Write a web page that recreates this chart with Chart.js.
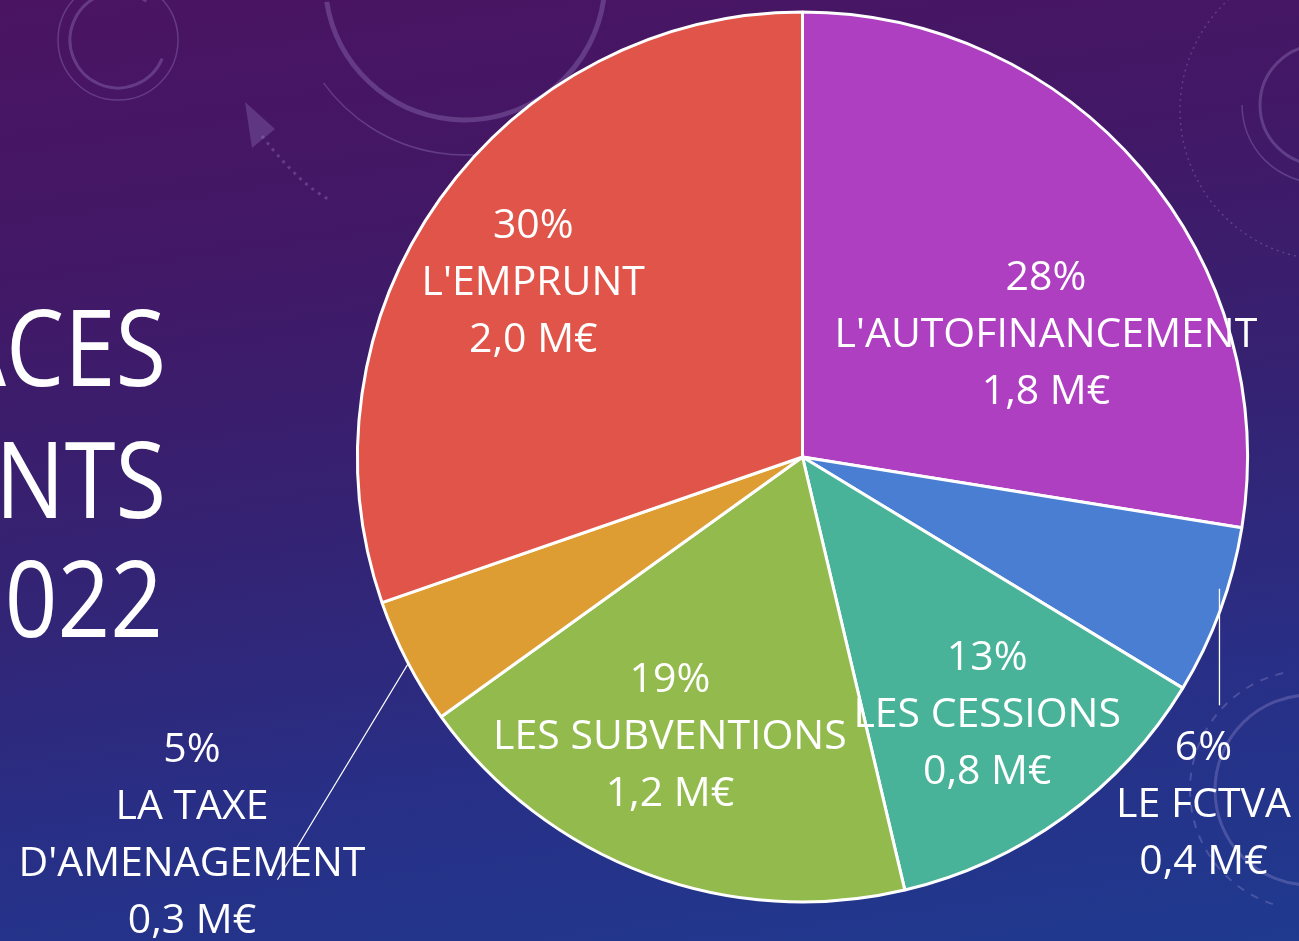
<!DOCTYPE html>
<html lang="fr">
<head>
<meta charset="utf-8">
<title>Ressources d'investissements 2022</title>
<script src="https://cdn.jsdelivr.net/npm/chart.js@4.4.1/dist/chart.umd.min.js"></script>
<style>
    html, body { margin: 0; padding: 0; width: 1299px; height: 941px; overflow: hidden; }
    body { background: linear-gradient(172deg, #4a1462 0%, #421866 25%, #352272 50%, #282f86 75%, #1f3a8f 100%); }
    #wrap { position: absolute; left: 0; top: 0; width: 1299px; height: 941px; }
</style>
</head>
<body>
<div id="wrap"><canvas id="pieChart"></canvas></div>
<script>
// Data (slices clockwise from 12 o'clock)
const categories = ["L'AUTOFINANCEMENT", 'LE FCTVA', 'LES CESSIONS', 'LES SUBVENTIONS', ['LA TAXE', "D'AMENAGEMENT"], "L'EMPRUNT"];
const amounts = [1.79, 0.40, 0.82, 1.22, 0.30, 1.97]; // M€
const percentLabels = ['28%', '6%', '13%', '19%', '5%', '30%'];
const amountLabels = ['1,8 M€', '0,4 M€', '0,8 M€', '1,2 M€', '0,3 M€', '2,0 M€'];
const titleLines = ['ACES', 'NTS', '022'];

const sliceColors = ['#ad3fc0', '#4a7ed3', '#48b399', '#93ba4d', '#de9d32', '#e15449'];

// label anchors in units of the pie radius, relative to the centre
const labelPos = [[0.547, -0.273], [0.901, 0.783], [0.415, 0.581], [-0.298, 0.63], [-1.372, 0.852], [-0.605, -0.39]];
// leader lines for the outside labels: [from, to]
const leaders = {1: [[0.937, 0.296], [0.937, 0.558]], 4: [[-0.886, 0.464], [-1.18, 0.95]]};

const FONT = '"Open Sans", "Noto Sans", sans-serif';

const decoPlugin = {
    id: 'deco',
    beforeDraw(chart) {
        const ctx = chart.ctx;
        ctx.save();
        ctx.strokeStyle = 'rgba(190,170,230,0.25)';
        ctx.lineWidth = 1.5;
        // top left rings
        ctx.beginPath(); ctx.arc(118, 40, 60, 0, Math.PI * 2); ctx.stroke();
        ctx.lineWidth = 3;
        ctx.beginPath(); ctx.arc(118, 40, 48, 0.4, Math.PI * 1.7); ctx.stroke();
        // big ring top middle
        ctx.lineWidth = 5;
        ctx.beginPath(); ctx.arc(465, -20, 140, 0.1, Math.PI * 0.95); ctx.stroke();
        ctx.lineWidth = 1.5;
        ctx.beginPath(); ctx.arc(465, -20, 175, Math.PI * 0.3, Math.PI * 0.8); ctx.stroke();
        // arrow + dotted trail
        ctx.fillStyle = 'rgba(190,170,230,0.22)';
        ctx.beginPath(); ctx.moveTo(245, 102); ctx.lineTo(275, 129); ctx.lineTo(252, 148); ctx.closePath(); ctx.fill();
        ctx.setLineDash([3, 5]);
        ctx.lineWidth = 3;
        ctx.beginPath(); ctx.moveTo(262, 136); ctx.quadraticCurveTo(300, 185, 330, 200); ctx.stroke();
        // right side rings
        ctx.lineWidth = 1.5;
        ctx.setLineDash([2, 4]);
        ctx.beginPath(); ctx.arc(1330, 110, 150, 0, Math.PI * 2); ctx.stroke();
        ctx.setLineDash([]);
        ctx.lineWidth = 3;
        ctx.beginPath(); ctx.arc(1320, 105, 60, 0, Math.PI * 2); ctx.stroke();
        ctx.lineWidth = 1.5;
        ctx.beginPath(); ctx.arc(1320, 105, 78, Math.PI * 0.5, Math.PI * 1.0); ctx.stroke();
        // bottom right rings
        ctx.lineWidth = 3;
        ctx.beginPath(); ctx.arc(1310, 790, 95, 0, Math.PI * 2); ctx.stroke();
        ctx.lineWidth = 2;
        ctx.setLineDash([8, 8]);
        ctx.beginPath(); ctx.arc(1310, 790, 120, Math.PI * 0.6, Math.PI * 1.45); ctx.stroke();
        ctx.setLineDash([]);

        // cropped slide title (narrowed to mimic the original face)
        const sx = 0.87;
        ctx.fillStyle = '#ffffff';
        ctx.font = '106px ' + FONT;
        ctx.textAlign = 'right';
        ctx.textBaseline = 'alphabetic';
        ctx.scale(sx, 1);
        ctx.fillText(titleLines[0], 166 / sx, 386);
        ctx.fillText(titleLines[1], 166 / sx, 518);
        ctx.fillText(titleLines[2], 163 / sx, 637);
        ctx.restore();
    }
};

const labelPlugin = {
    id: 'sliceLabels',
    afterDatasetsDraw(chart) {
        const ctx = chart.ctx;
        const arc0 = chart.getDatasetMeta(0).data[0];
        const cx = arc0.x, cy = arc0.y, R = arc0.outerRadius;
        const lineH = 57;
        ctx.save();
        // leader lines
        ctx.strokeStyle = '#ffffff';
        ctx.lineWidth = 1.3;
        Object.keys(leaders).forEach(k => {
            const [a, b] = leaders[k];
            ctx.beginPath();
            ctx.moveTo(cx + a[0] * R, cy + a[1] * R);
            ctx.lineTo(cx + b[0] * R, cy + b[1] * R);
            ctx.stroke();
        });
        ctx.fillStyle = '#ffffff';
        ctx.font = '41px ' + FONT;
        ctx.textAlign = 'center';
        ctx.textBaseline = 'middle';
        categories.forEach((cat, i) => {
            const lines = [percentLabels[i]].concat(Array.isArray(cat) ? cat : [cat], [amountLabels[i]]);
            const x = cx + labelPos[i][0] * R;
            const y0 = cy + labelPos[i][1] * R - (lines.length - 1) * lineH / 2;
            lines.forEach((t, j) => ctx.fillText(t, x, y0 + j * lineH));
        });
        ctx.restore();
    }
};

new Chart(document.getElementById('pieChart').getContext('2d'), {
    type: 'pie',
    data: {
        labels: categories,
        datasets: [{
            data: amounts,
            backgroundColor: sliceColors,
            borderColor: '#ffffff',
            borderWidth: 3,
            hoverOffset: 0
        }]
    },
    options: {
        responsive: true,
        maintainAspectRatio: false,
        animation: false,
        layout: {
            padding: { left: 356, right: 50, top: 10, bottom: 37 }
        },
        plugins: {
            legend: { display: false },
            tooltip: { enabled: false }
        }
    },
    plugins: [decoPlugin, labelPlugin]
});
</script>
</body>
</html>
